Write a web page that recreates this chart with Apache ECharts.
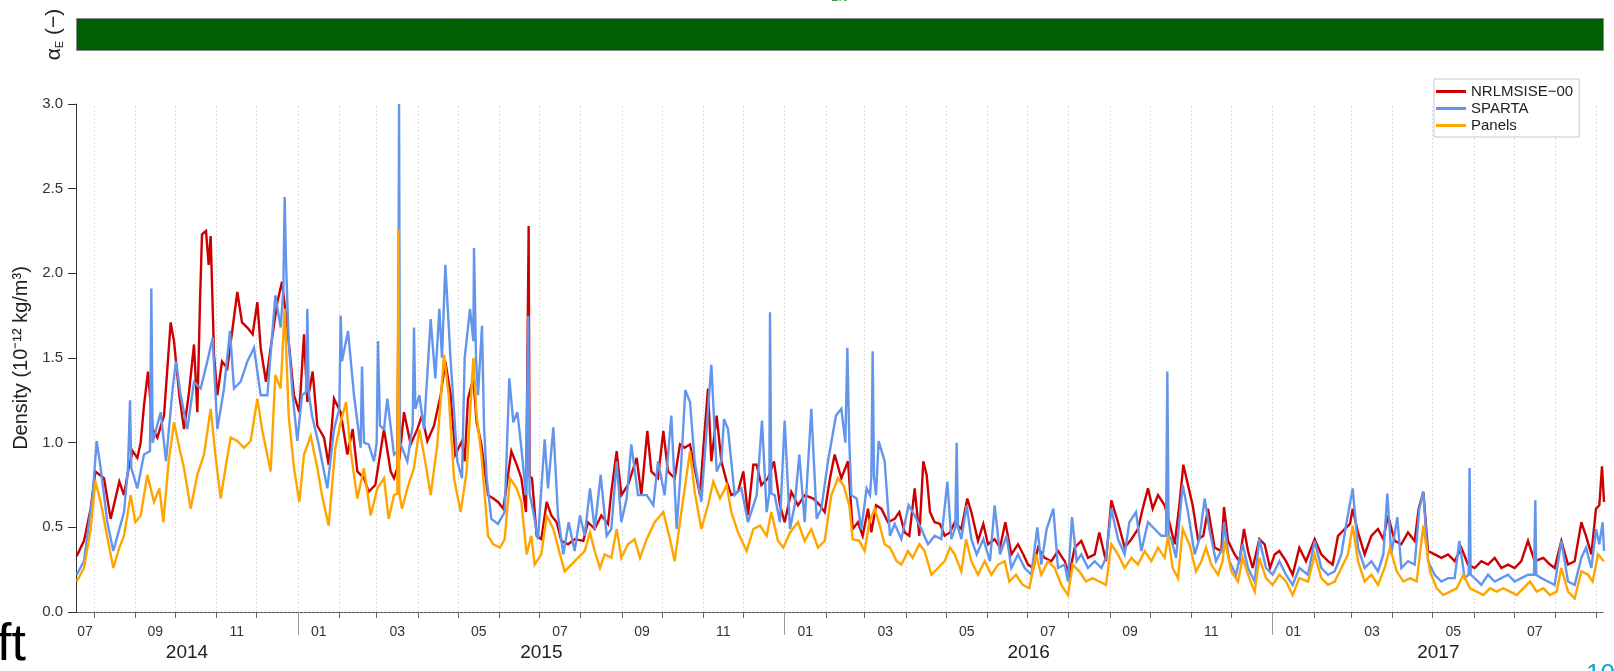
<!DOCTYPE html>
<html>
<head>
<meta charset="utf-8">
<title>Thermospheric density</title>
<script src="https://cdn.jsdelivr.net/npm/echarts@6/dist/echarts.min.js"></script>
<style>
  html, body { margin: 0; padding: 0; background: #fff; }
  #chart { width: 1614px; height: 671px; }
</style>
</head>
<body>
<div id="chart"></div>
<script>
// Sample times are stored as day offsets from 1 Jan 2015 (UTC).
const DAY = 86400000;
const EPOCH = Date.UTC(2015, 0, 1);
const rangeDays = [-166.5, 979.5];

// energy accommodation coefficient shown in the strip above the plot
const alphaE = [1.0];

const seriesNames = ['NRLMSISE\u221200', 'SPARTA', 'Panels'];
const seriesColors = ['#cc0000', '#6495ed', '#ffa500'];

// density, 10^-12 kg/m^3  ([day offset, value])
const nrlmsise = [
  [-166,0.33],[-160.5,0.42],[-155.5,0.61],[-152,0.83],[-145.5,0.79],[-140.5,0.55],[-134,0.77],[-130.5,0.69],[-127,0.85],[-124,0.95],
  [-120.5,0.91],[-118,1.0],[-115.5,1.22],[-112.5,1.42],[-109,1.08],[-105.5,1.03],[-100.5,1.16],[-95.5,1.71],[-93,1.6],[-89,1.28],
  [-85.5,1.08],[-82,1.28],[-78,1.58],[-75.5,1.18],[-73.5,1.83],[-72,2.23],[-69,2.25],[-67,2.05],[-65.5,2.22],[-63,1.52],
  [-60.5,1.28],[-57,1.48],[-53,1.44],[-49,1.68],[-45.5,1.89],[-42,1.71],[-38,1.68],[-34,1.64],[-30.5,1.83],[-28,1.56],
  [-24,1.36],[-20.5,1.56],[-15.5,1.83],[-12,1.95],[-8,1.68],[-3,1.28],[1,1.18],[4.5,1.64],[7,1.24],[11,1.42],
  [14.5,1.10],[19.5,1.03],[23,0.87],[27,1.26],[32,1.18],[37,0.93],[41,1.08],[44.5,0.83],[49.5,0.79],[53,0.71],
  [58,0.75],[64.5,1.08],[69.5,0.83],[72,0.79],[74.5,0.85],[75.2,1.71],[76,0.9],[79.5,1.18],[84.5,0.99],[89.5,1.08],
  [93,1.16],[97,1.01],[102,1.10],[107,1.28],[110.5,1.48],[114.5,1.28],[118,0.93],[123,1.01],
  [125,0.89],[127.5,1.26],[131.5,1.38],[134,1.12],[137.5,0.99],[142.5,0.69],[146.5,0.67],[150,0.65],[154,0.61],[156.5,0.75],
  [160,0.95],[164,0.87],[167.5,0.79],[171,0.59],[172.3,0.6],[173,2.28],[173.7,0.8],[175.5,0.79],[179,0.45],[182.5,0.43],
  [186.5,0.65],[190,0.57],[194,0.53],[197.5,0.42],[202.5,0.40],[207.5,0.43],[214,0.42],[217.5,0.53],[222.5,0.49],[227.5,0.57],
  [232.5,0.52],[235,0.71],[239,0.95],[242.5,0.69],[247.5,0.75],[254,0.91],[257.5,0.69],[262,1.07],[265,0.83],[270,0.79],
  [274,1.07],[277.5,0.83],[282.5,0.79],[286.5,0.99],[290,0.97],[294,0.99],[297.5,0.85],[301.5,0.69],[304,0.97],[307.5,1.32],
  [310,0.89],[314,1.16],[317.5,0.89],[321.5,0.77],[325,0.69],[330,0.71],[334,0.83],[337.5,0.57],[341.5,0.87],[344,0.87],
  [347.5,0.75],[352.5,0.79],[357,0.89],[361.5,0.63],[365,0.53],[370,0.71],[375,0.63],[380,0.69],[386.5,0.67],[391.5,0.63],
  [395,0.59],[399,0.79],[402.5,0.93],[407.5,0.79],
  [412.5,0.89],[416,0.49],[420,0.53],[423.5,0.45],[427.5,0.61],[430,0.47],[433.5,0.63],[437.5,0.61],[442.5,0.53],[447.5,0.55],
  [451,0.59],[455,0.47],[458.5,0.45],[462.5,0.73],[466,0.45],[469,0.89],[471.5,0.81],[474,0.59],[477.5,0.53],[481.5,0.52],
  [485,0.45],[489,0.47],[492.5,0.53],[497.5,0.49],[502,0.67],[505,0.59],[510,0.42],[514,0.52],[517.5,0.40],[522.5,0.43],
  [526.5,0.38],[530.5,0.53],[535,0.34],[540,0.40],[544,0.34],[547.5,0.28],[551.5,0.26],[555,0.38],[560,0.32],[565,0.30],
  [570,0.36],[575,0.30],[578.5,0.22],[582.5,0.38],[587.5,0.42],[592.5,0.32],[597.5,0.34],[601,0.47],[606,0.30],[610,0.66],
  [615,0.53],[620,0.38],[625,0.43],[630,0.49],[633.5,0.61],[637.5,0.73],[641,0.61],[645,0.69],[650,0.63],[653.5,0.53],
  [657.5,0.40],[661,0.63],[664,0.87],[667.5,0.75],[671,0.63],[675,0.43],[679,0.45],[682.5,0.61],[687.5,0.38],[692.5,0.36],
  [694.5,0.62],[697.5,0.42],[702.5,0.34],[706,0.30],[709.5,0.49],[712.5,0.36],[716,0.26],[721,0.43],[725,0.40],[729,0.26],
  [732.5,0.34],[736,0.36],[741,0.30],[746,0.22],[751,0.38],[756,0.30],[762.5,0.43],[767.5,0.34],[772.5,0.30],[776,0.28],
  [780,0.45],[785,0.49],[789,0.52],[791,0.61],[795,0.47],[800,0.34],[805,0.45],[810,0.49],[814,0.43],[817.5,0.57],
  [822.5,0.42],[827.5,0.40],[832.5,0.47],[837.5,0.42],[840.5,0.61],[844,0.71],[847.5,0.36],[852.5,0.34],[857.5,0.32],[862.5,0.34],
  [867.5,0.30],[872.5,0.38],[877.5,0.28],[882.5,0.26],[887.5,0.30],[892.5,0.28],[897.5,0.32],[902.5,0.26],[907.5,0.28],[912.5,0.26],
  [917.5,0.30],[922.5,0.42],[927.5,0.30],[934,0.32],[939,0.28],[942.5,0.26],[947.5,0.42],[952.5,0.28],[957.5,0.30],[962.5,0.53],
  [966,0.45],[970,0.34],[973.5,0.61],[976,0.63],[978,0.86],[979.5,0.65]
];

const sparta = [
  [-166,0.22],[-160.5,0.30],[-154,0.69],[-151,1.01],[-148,0.85],[-143,0.53],[-138.5,0.36],[-134,0.49],[-130.5,0.59],[-127.5,0.85],
  [-126,1.25],[-125,0.85],[-120.5,0.73],[-115.5,0.93],[-111,0.95],[-110,1.91],[-109,1.0],[-103,1.18],[-99,0.89],[-94,1.32],
  [-91.5,1.48],[-88,1.28],[-83,1.08],[-78,1.36],[-73,1.32],[-68,1.48],[-64,1.62],[-60.5,1.08],[-55.5,1.32],[-51,1.66],
  [-48,1.32],[-43,1.36],[-38,1.48],[-33,1.56],[-28,1.28],[-23,1.28],[-17,1.87],[-13,1.68],[-11,1.9],[-10,2.45],
  [-9,2.07],[-7,1.6],[-4,1.28],[-0.5,1.01],[3,1.28],[6,1.3],[7,1.79],[8,1.3],[10.5,1.16],[15.5,0.99],
  [22,0.73],[27,1.08],[31,1.2],[32,1.75],[33,1.48],[37.5,1.66],[42,1.28],[47,0.97],[48,1.45],[49.5,1.0],
  [53,0.99],[57,0.89],[59,1.0],[60,1.60],[61.5,1.1],[64.5,1.08],[67,1.26],[72,0.93],[75,0.95],[75.8,3.0],
  [76.5,1.0],[78,0.99],[82,0.89],[86,1.1],[87,1.68],[88,1.2],[91,1.28],[94.5,1.08],[99.5,1.73],[103,1.38],
  [106,1.79],[108,1.5],[110.5,2.05],[114.5,1.48],[119.5,0.89],[123,0.79],
  [125,1.50],[129,1.79],[131.5,1.6],[132,2.15],[133.5,1.5],[135,1.28],[138,1.69],[139.5,1.1],[141.5,0.79],[145,0.55],
  [150,0.52],[155,0.59],[158.5,1.38],[161.5,1.12],[164.5,1.18],[167.5,0.97],[171,0.69],[172,0.7],[172.7,1.75],[173.7,0.7],
  [176.5,0.59],[180,0.43],[185,1.02],[187.5,0.73],[191.5,1.09],[195,0.57],[199,0.34],[203,0.53],[207.5,0.36],[211.5,0.57],
  [215,0.45],[219,0.73],[222.5,0.49],[227,0.81],[231.5,0.45],[235,0.49],[239,0.89],[242.5,0.53],[246.5,0.67],[250,0.99],
  [255,0.69],[261.5,0.69],[266.5,0.63],[270,0.89],[275,0.69],[280,1.16],[284,0.49],[287.5,0.89],[290.5,1.31],[294,1.24],
  [297.5,0.89],[302.5,0.65],[306.5,1.08],[310,1.46],[314,0.83],[317.5,0.89],[319.5,1.14],[322.5,1.08],[327.5,0.69],[332.5,0.73],
  [337.5,0.53],[344,0.69],[348,1.13],[351.5,0.59],[353.5,0.7],[354,1.77],[355,0.7],[357.5,0.69],[361.5,0.53],[365,1.13],
  [369,0.49],[372.5,0.63],[376,0.93],[380,0.53],[385,1.20],[389,0.55],[392.5,0.61],[397.5,0.89],[403.5,1.16],[407.5,1.20],
  [410.5,1.0],[412,1.56],[413.5,1.0],[415,0.69],[419,0.67],[422.5,0.49],[426.5,0.73],[429,0.69],[430,0.8],[431,1.54],
  [432,0.8],[433.5,0.69],[435.5,1.01],[440,0.89],[444,0.45],[447.5,0.52],[452.5,0.43],[458,0.63],[462.5,0.57],[467.5,0.49],
  [472.5,0.40],[477.5,0.45],[482.5,0.43],[487,0.77],[490,0.43],[493,0.5],[494,1.00],[495,0.5],[497.5,0.43],[501.5,0.63],
  [505,0.43],[509,0.34],[514,0.43],[519,0.30],[522.5,0.63],[526.5,0.34],[531.5,0.45],[535,0.26],[540,0.34],[545,0.26],
  [550,0.22],[554.5,0.50],[557.5,0.28],[561.5,0.49],[566.5,0.61],[570,0.26],[575,0.28],[577.5,0.18],[580.5,0.56],[584,0.30],
  [587.5,0.34],[592.5,0.26],[597.5,0.30],[602.5,0.26],[606,0.32],[610,0.61],[615,0.43],[620,0.34],[623.5,0.53],[628.5,0.59],
  [632.5,0.36],[637.5,0.53],[642.5,0.49],[647.5,0.45],[651,0.45],[652,1.42],[653,0.45],[655,0.43],[658.5,0.32],[663.5,0.75],
  [667.5,0.59],[672.5,0.34],[676,0.43],[680,0.67],[683.5,0.49],[688.5,0.30],[693.5,0.38],
  [694.5,0.53],[698.5,0.30],[703.5,0.22],[708.5,0.40],[712.5,0.26],[717.5,0.18],[721,0.43],[726,0.26],[731,0.22],[736,0.30],
  [741,0.22],[746,0.16],[751,0.26],[757.5,0.22],[762.5,0.42],[767.5,0.26],[772.5,0.22],[777.5,0.24],[782.5,0.34],[786,0.51],
  [791,0.73],[795,0.38],[800,0.26],[805,0.30],[810,0.24],[814,0.34],[817,0.70],[820,0.34],[824.5,0.56],[827.5,0.26],
  [832.5,0.30],[837.5,0.28],[841,0.61],[844,0.71],[847.5,0.30],[852.5,0.22],[857.5,0.18],[862.5,0.20],[867.5,0.20],[871,0.42],
  [875,0.20],[878,0.22],[878.7,0.85],[879.5,0.22],[882.5,0.20],[887.5,0.16],[892.5,0.22],[897.5,0.18],[902.5,0.20],[907.5,0.22],
  [912.5,0.18],[917.5,0.20],[922.5,0.22],[927,0.22],[928,0.66],[928.7,0.22],[932.5,0.20],[937.5,0.18],[942.5,0.16],[947.5,0.42],
  [952.5,0.18],[957.5,0.16],[962.5,0.32],[966,0.38],[970,0.26],[973.5,0.49],[976,0.40],[978.5,0.53],[979.5,0.36]
];

const panels = [
  [-166,0.18],[-160.5,0.26],[-155.5,0.49],[-152,0.77],[-148,0.65],[-143,0.44],[-138.5,0.26],[-134,0.38],[-130.5,0.45],[-125.5,0.69],
  [-122,0.53],[-118,0.57],[-113,0.81],[-108,0.65],[-104,0.73],[-101,0.53],[-97,0.89],[-93,1.12],[-89,0.97],[-85.5,0.85],
  [-80.5,0.61],[-75.5,0.81],[-70.5,0.93],[-65.5,1.20],[-62,0.93],[-58,0.67],[-54,0.87],[-50.5,1.03],[-45.5,1.01],[-40.5,0.97],
  [-35.5,1.01],[-30.5,1.26],[-27,1.08],[-20.5,0.83],[-17,1.40],[-13,1.32],[-10,1.79],[-7,1.16],[-3,0.85],[1,0.65],
  [4.5,0.93],[9.5,1.04],[14.5,0.85],[18,0.69],[23,0.51],[28,0.97],[32,1.12],[36,1.24],[39.5,0.95],[44.5,0.67],
  [49.5,0.85],[54.5,0.57],[59.5,0.73],[64.5,0.79],[68,0.55],[72,0.69],[74.5,0.7],[75.3,2.26],[76,0.7],[78,0.61],
  [82,0.73],[87,0.85],[91,1.08],[94.5,0.93],[99.5,0.69],[104.5,0.99],[109.5,1.52],[113,1.28],[117,0.79],[122,0.59],
  [126.5,0.83],[131.5,1.50],[134,1.16],[137.5,0.93],[142.5,0.45],[146.5,0.40],[151.5,0.38],[155,0.43],[159,0.79],[164,0.73],
  [167.5,0.65],[171.5,0.34],[175,0.45],[177.5,0.28],[182.5,0.34],[186.5,0.57],[191.5,0.49],[196.5,0.34],[200,0.24],[205,0.28],
  [210,0.32],[215,0.36],[219,0.47],[222.5,0.36],[226.5,0.26],[230,0.34],[235,0.32],[239,0.49],[242.5,0.32],[247.5,0.40],
  [252.5,0.43],[256.5,0.32],[261.5,0.43],[267.5,0.53],[274,0.59],[279,0.43],[282.5,0.30],[287.5,0.59],[294,0.95],[297.5,0.71],
  [302.5,0.49],[307.5,0.63],[311.5,0.77],[316.5,0.67],[321.5,0.75],[325,0.59],[330,0.47],[336.5,0.36],[341.5,0.49],[346.5,0.51],
  [351.5,0.45],[355,0.59],[360,0.42],[364,0.38],[369,0.47],[375,0.53],[380,0.42],[385,0.49],[390,0.38],[395,0.42],
  [400,0.69],[405,0.79],[409,0.75],
  [413.5,0.63],[416,0.43],[421,0.42],[425,0.36],[428.5,0.53],[432.5,0.61],[436,0.52],[440,0.40],[444,0.38],[449,0.30],
  [452.5,0.28],[457.5,0.36],[461,0.32],[466,0.40],[470,0.36],[475,0.22],[480,0.26],[485,0.30],[489,0.38],[492.5,0.34],
  [497.5,0.24],[501,0.43],[505,0.30],[510,0.22],[515,0.30],[520,0.22],[525,0.28],[530,0.30],[533.5,0.18],[538.5,0.22],
  [543.5,0.16],[548.5,0.14],[553.5,0.34],[557.5,0.22],[562.5,0.30],[567.5,0.26],[572.5,0.16],[577.5,0.10],[581,0.28],[586,0.24],
  [591,0.18],[596,0.20],[601,0.18],[606,0.16],[610,0.40],[615,0.34],[620,0.26],[625,0.32],[630,0.28],[635,0.36],
  [640,0.30],[645,0.38],[650,0.32],[652.5,0.45],[656,0.26],[660,0.20],[663.5,0.49],[668.5,0.40],[673.5,0.24],[677.5,0.30],
  [681,0.38],[685,0.28],[690,0.22],[693.5,0.30],
  [695,0.42],[700,0.24],[705,0.18],[708.5,0.32],[713.5,0.20],[717.5,0.12],[721,0.32],[726,0.20],[731,0.16],[736,0.22],
  [741,0.18],[746,0.10],[751,0.20],[757.5,0.18],[762.5,0.34],[767.5,0.20],[772.5,0.16],[777.5,0.18],[782.5,0.26],[787.5,0.34],
  [791,0.51],[795,0.30],[800,0.18],[805,0.22],[810,0.16],[815,0.26],[819,0.38],[824,0.24],[829,0.18],[834,0.20],
  [839,0.18],[844,0.51],[849,0.24],[854,0.14],[859,0.10],[864,0.12],[869,0.14],[874,0.22],[879,0.14],[884,0.12],
  [889,0.10],[894,0.14],[899,0.12],[904,0.14],[909,0.12],[914,0.10],[919,0.14],[924,0.18],[929,0.12],[934,0.14],
  [939,0.10],[944,0.12],[947.5,0.26],[952.5,0.12],[957.5,0.08],[962.5,0.24],[967.5,0.22],[971,0.18],[975,0.34],[979.5,0.30]
];

const toTime = d => EPOCH + d * DAY;
const xMin = toTime(rangeDays[0]);
const xMax = toTime(rangeDays[1]);

// calendar positions inside the plotted range
const monthStarts = [];
const oddMonthCentres = [];
const yearStarts = [];
const yearCentres = [];
for (let y = 2014; y <= 2017; y++) {
  const ys = Date.UTC(y, 0, 1), ye = Date.UTC(y + 1, 0, 1);
  if (ys > xMin && ys < xMax) yearStarts.push(ys);
  const yvs = Math.max(ys, xMin), yve = Math.min(ye, xMax);
  if (yve > yvs) yearCentres.push((yvs + yve) / 2);
  for (let m = 0; m < 12; m++) {
    const s = Date.UTC(y, m, 1), e = Date.UTC(y, m + 1, 1);
    if (s > xMin && s < xMax) monthStarts.push(s);
    const vs = Math.max(s, xMin), ve = Math.min(e, xMax);
    if (m % 2 === 0 && ve - vs >= 10 * DAY) oddMonthCentres.push((vs + ve) / 2);
  }
}

const FONT = '"Liberation Sans", Arial, Helvetica, sans-serif';
const toSeriesData = arr => arr.map(p => [toTime(p[0]), p[1]]);
const densitySets = [nrlmsise, sparta, panels];

const lineSeries = densitySets.map((set, i) => ({
  name: seriesNames[i],
  type: 'line',
  xAxisIndex: 0,
  yAxisIndex: 0,
  data: toSeriesData(set),
  symbol: 'none',
  showSymbol: false,
  z: 3 + i,
  lineStyle: { color: seriesColors[i], width: 2.4, join: 'miter', miterLimit: 4 },
  itemStyle: { color: seriesColors[i] }
}));

// dotted month grid
lineSeries.push({
  name: 'monthGrid',
  type: 'line',
  xAxisIndex: 0,
  yAxisIndex: 0,
  data: [],
  silent: true,
  markLine: {
    silent: true,
    z: 1,
    symbol: ['none', 'none'],
    label: { show: false },
    lineStyle: { color: '#dedede', type: [2, 2], width: 1 },
    data: monthStarts.map(t => ({ xAxis: t }))
  }
});

const option = {
  animation: false,
  backgroundColor: '#ffffff',
  textStyle: { fontFamily: FONT },
  legend: {
    data: seriesNames,
    orient: 'vertical',
    left: 1434,
    top: 79,
    icon: 'rect',
    itemWidth: 30,
    itemHeight: 3,
    itemGap: 2,
    padding: [5, 6, 4, 2],
    backgroundColor: '#ffffff',
    borderColor: '#c8c8c8',
    borderWidth: 1,
    borderRadius: 0,
    textStyle: { fontSize: 15, color: '#222', fontFamily: FONT }
  },
  grid: [
    { left: 76, right: 10, top: 104, bottom: 59 },
    { left: 76, right: 10, top: 18, height: 33 }
  ],
  xAxis: [
    {
      type: 'value', gridIndex: 0, min: xMin, max: xMax, position: 'bottom',
      axisLine: { show: true, lineStyle: { color: '#555', width: 1, type: [3, 1] } },
      axisTick: { show: true, customValues: monthStarts, length: 6, lineStyle: { color: '#666' } },
      axisLabel: {
        customValues: oddMonthCentres,
        formatter: v => String(new Date(v).getUTCMonth() + 1).padStart(2, '0'),
        fontSize: 14, color: '#333', margin: 13, fontFamily: FONT
      },
      splitLine: { show: false }
    },
    {
      type: 'value', gridIndex: 0, min: xMin, max: xMax, position: 'bottom',
      axisLine: { show: false },
      axisTick: { show: true, customValues: yearStarts, length: 23, lineStyle: { color: '#999' } },
      axisLabel: {
        customValues: yearCentres,
        formatter: v => String(new Date(v).getUTCFullYear()),
        fontSize: 19, color: '#222', margin: 31, fontFamily: FONT
      },
      splitLine: { show: false }
    },
    { type: 'category', gridIndex: 1, data: ['alphaE'], show: false }
  ],
  yAxis: [
    {
      type: 'value', gridIndex: 0, min: 0, max: 3, interval: 0.5,
      axisLine: { show: true, lineStyle: { color: '#333', width: 1 } },
      axisTick: { show: true, length: 8, lineStyle: { color: '#333' } },
      axisLabel: { formatter: v => v.toFixed(1), fontSize: 15, color: '#333', margin: 13, fontFamily: FONT },
      splitLine: { show: false },
      name: 'Density (10\u207B\u00B9\u00B2 kg/m\u00B3)',
      nameLocation: 'middle',
      nameGap: 45,
      nameTextStyle: { fontSize: 20, color: '#222', fontFamily: FONT }
    },
    {
      type: 'value', gridIndex: 1, min: 0, max: 1,
      axisLine: { show: false }, axisTick: { show: false }, axisLabel: { show: false }, splitLine: { show: false },
      name: '{a|\u03B1}{s|E}{a| (\u2212)}',
      nameLocation: 'middle',
      nameRotate: 90,
      nameGap: 11,
      nameTextStyle: {
        rich: {
          a: { fontSize: 21, color: '#222', fontFamily: FONT },
          s: { fontSize: 11, color: '#222', fontFamily: FONT, verticalAlign: 'bottom' }
        }
      }
    }
  ],
  series: [
    {
      name: 'alphaE',
      type: 'bar',
      xAxisIndex: 2,
      yAxisIndex: 1,
      data: alphaE,
      barWidth: '100%',
      silent: true,
      itemStyle: { color: '#005f00', borderColor: '#8a8a8a', borderWidth: 1 },
      label: {
        show: true, position: 'top', distance: 14,
        formatter: p => p.value.toFixed(1),
        color: '#3a9a3a', fontSize: 13, fontFamily: FONT
      }
    }
  ].concat(lineSeries),
  graphic: [
    { type: 'text', x: -3, y: 620, silent: true,
      style: { text: 'ft', fontSize: 52, fontFamily: FONT, fill: '#000', verticalAlign: 'top' } },
    { type: 'text', x: 1586, y: 662, silent: true,
      style: { text: '10', fontSize: 26, fontFamily: FONT, fill: '#1aa0d2', verticalAlign: 'top' } }
  ]
};

const chart = echarts.init(document.getElementById('chart'), null, { renderer: 'canvas' });
chart.setOption(option);
</script>
</body>
</html>
